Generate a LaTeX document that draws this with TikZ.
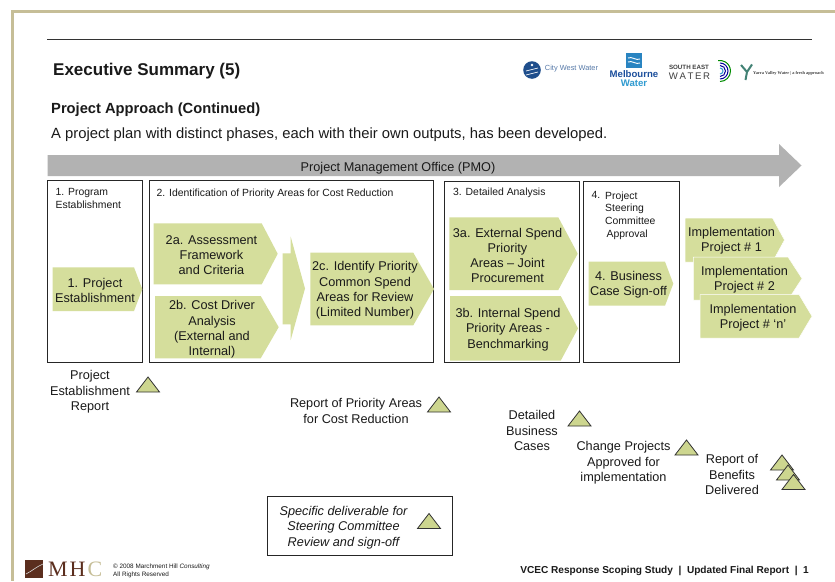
\documentclass[tikz,border=0pt]{standalone}
\usepackage{fontspec}
\setmainfont{Liberation Sans}
\newfontfamily\serifmhc{Liberation Serif}
\usetikzlibrary{calc}
\definecolor{chev}{HTML}{D5DE9C}
\definecolor{tri}{HTML}{CDD68F}
\definecolor{pmo}{HTML}{B2B2B2}
\definecolor{frameT}{HTML}{C6BE97}
\definecolor{txt}{HTML}{1A1A1A}
\definecolor{mhcbrown}{HTML}{5B2E1E}
\definecolor{cwwblue}{HTML}{1F4E8C}
\definecolor{mwblue}{HTML}{1C4F9C}
\definecolor{mwcyan}{HTML}{2E9AD0}
\tikzset{
 x=1pt,y=-1pt,
 lbl/.style={align=center,font=\fontsize{12.7}{15.3}\selectfont,text=txt,inner sep=0pt},
 head/.style={align=left,font=\fontsize{10.4}{12.2}\selectfont,text=txt,inner sep=0pt,anchor=north west},
 phase/.style={draw=black!85,line width=0.9pt,fill=white},
 chevfill/.style={fill=chev,draw=white,line width=0.5pt},
 deliv/.style={fill=tri,draw=black!80,line width=0.8pt,line join=miter},
}
% chevron: x0,y0,x1,y1,tip-depth
\newcommand{\chv}[5]{\fill[chev] (#1,#2) -- ({#3-#5},#2) -- (#3,{(#2+#4)/2}) -- ({#3-#5},#4) -- (#1,#4) -- cycle;}
\newcommand{\chvw}[5]{\filldraw[chevfill] (#1,#2) -- ({#3-#5},#2) -- (#3,{(#2+#4)/2}) -- ({#3-#5},#4) -- (#1,#4) -- cycle;}
\newcommand{\trg}[2]{\path[deliv] ({#1-11.5},{#2+7.5}) -- (#1,{#2-7.5}) -- ({#1+11.5},{#2+7.5}) -- cycle;}
\begin{document}
\begin{tikzpicture}
\useasboundingbox (0,0) rectangle (835,581);
\fill[white] (0,0) rectangle (835,581);
% page frame
\fill[frameT] (11,10) rectangle (835,13);
\fill[frameT] (11,10) rectangle (14,581);
\draw[black!80,line width=1.1pt] (47,39.5) -- (812,39.5);
% titles
\node[anchor=west,inner sep=0pt,font=\fontsize{17}{20}\selectfont\bfseries,text=txt] (title) at (53,71) {Executive Summary (5)};
\node[anchor=west,inner sep=0pt,font=\fontsize{14.7}{17}\selectfont\bfseries,text=txt] (sub) at (51,109.5) {Project Approach (Continued)};
\node[anchor=west,inner sep=0pt,font=\fontsize{14.8}{17}\selectfont,text=txt] (intro) at (51,134.5) {A project plan with distinct phases, each with their own outputs, has been developed.};
% PMO arrow
\fill[pmo] (47.5,155) -- (779,155) -- (779,144) -- (801.5,165.5) -- (779,187) -- (779,176) -- (47.5,176) -- cycle;
\node[lbl] (pmotxt) at (398,168.5) {Project Management Office (PMO)};
% phase boxes
\draw[phase] (47.7,180) rectangle (142.7,362.3);
\draw[phase] (149.7,180) rectangle (433.3,362.3);
\draw[phase] (444,181.7) rectangle (579.7,362.3);
\draw[phase] (583.7,181.7) rectangle (679,362.3);
\node[head] (h1) at (55.5,188.5) {1. Program\\Establishment};
\node[head] (h2) at (156.5,188.5) {2. Identification of Priority Areas for Cost Reduction};
\node[head] (h3) at (453,188) {3. Detailed Analysis};
\node[head] (h4a) at (591.5,191.5) {4.};
\node[head,font=\fontsize{10.4}{12.6}\selectfont] (h4) at (605,191.5) {Project\\Steering\\Committee\\\hspace*{1.5pt}Approval};
% chevrons
\chv{52.7}{267.3}{142.3}{311}{8.3}
\node[lbl] (c1) at (95,290.5) {1. Project\\Establishment};
\chv{153.7}{223.3}{277.7}{284.3}{16}
\node[lbl] (c2a) at (211.5,255) {2a. Assessment\\Framework\\and Criteria};
\chv{155}{296}{278.7}{358.3}{18}
\node[lbl] (c2b) at (212,329.5) {2b. Cost Driver\\Analysis\\(External and\\Internal)};
\fill[chev] (282.7,253.3) -- (290.7,253.3) -- (290.7,236.7) -- (305,288.5) -- (290.7,340) -- (290.7,324.3) -- (282.7,324.3) -- cycle;
\chv{310.3}{252.7}{434}{325.3}{20.7}
\node[lbl] (c2c) at (365,290.5) {2c. Identify Priority\\Common Spend\\Areas for Review\\(Limited Number)};
\chv{449.3}{217.3}{577.7}{290}{19.4}
\node[lbl] (c3a) at (507.5,255.5) {3a. External Spend\\Priority\\Areas – Joint\\Procurement};
\chv{450}{296}{578}{360.7}{17.3}
\node[lbl] (c3b) at (508,329.5) {3b. Internal Spend\\Priority Areas -\\Benchmarking};
\chv{588.7}{261.7}{673.3}{305.7}{8.3}
\node[lbl] (c4) at (628.5,285) {4. Business\\Case Sign-off};
% implementation chevrons
\chvw{685}{218}{784.5}{262}{12}
\node[lbl] (i1) at (731.5,241) {Implementation\\Project \# 1};
\chvw{693.3}{257}{802}{300}{14}
\node[lbl] (i2) at (744.5,280) {Implementation\\Project \# 2};
\chvw{700}{294.5}{812}{338}{13}
\node[lbl] (i3) at (753,318) {Implementation\\Project \# ‘n’};
% deliverables
\node[lbl] (d1) at (90,392) {Project\\Establishment\\Report};
\trg{148}{384.5}
\node[lbl] (d2) at (356,411) {Report of Priority Areas\\for Cost Reduction};
\trg{439}{404.5}
\node[lbl] (d3) at (532,430.5) {Detailed\\Business\\Cases};
\trg{579.5}{418.5}
\node[lbl] (d4) at (623.5,463) {Change Projects\\Approved for\\implementation};
\trg{686.5}{447.5}
\node[lbl] (d5) at (732,474.5) {Report of\\Benefits\\Delivered};
\trg{782}{462.5}
\trg{788}{472.5}
\trg{793.5}{482}
% legend
\draw[black!85,line width=0.8pt] (267,496) rectangle (452,555);
\node[lbl,font=\fontsize{12.7}{15.3}\selectfont\itshape] (leg) at (343.5,527.5) {Specific deliverable for\\Steering Committee\\Review and sign-off};
\trg{429}{521}
% logos
\fill[cwwblue] (532,70) circle (8.8);
\draw[white,line width=0.7pt] (526,71) -- (538,68) (526,75) -- (538,72);
\fill[white] (532,65) circle (1.4);
\node[inner sep=0pt,font=\fontsize{7.4}{8}\selectfont,text=cwwblue!75] (cww) at (571.5,69) {City West Water};
\fill[mwcyan!70!mwblue] (626,52.7) rectangle (642,67.7);
\draw[white,line width=0.9pt] (628,58) .. controls (632,56) and (636,61) .. (640,59) (628,62) .. controls (632,60) and (636,65) .. (640,63);
\node[inner sep=0pt,font=\fontsize{9.6}{9}\selectfont\bfseries,align=center,text=mwblue] (mw) at (634,78.5) {Melbourne\\\textcolor{mwcyan}{Water}};
\node[inner sep=0pt,font=\fontsize{6.2}{7}\selectfont\bfseries,text=black!75] (se) at (689,67) {SOUTH EAST};
\node[inner sep=0pt,font=\fontsize{9.6}{10}\selectfont,text=black!75] (se2) at (689.5,76) {W\,A\,T\,E\,R};
% swirl, centred on (720,71)
\draw[green!55!black,line width=1pt] (720,81.5) arc (90:-100:10.5);
\draw[blue!60!black,line width=1pt] (720,79) arc (90:-90:8);
\draw[blue!60!black,line width=1pt] (720,76.5) arc (90:-90:5.5);
\draw[mwcyan,line width=1pt] (720,74) arc (90:-90:3);
\draw[cyan!45!green!60!black,line width=2pt] (741,65) -- (747,72) -- (752,64.5) (747,72) -- (745.5,80);
\node[inner sep=0pt,font=\fontsize{4.35}{5}\selectfont\serifmhc\bfseries,text=black!75,anchor=west] (yv) at (753,73.5) {Yarra Valley Water | a fresh approach};
% footer
\fill[mhcbrown] (25,559.5) rectangle (43,578);
\draw[white!85!black,line width=0.6pt] (26,574) .. controls (32,571) and (36,567) .. (43,564);
\node[anchor=base west,inner sep=0pt,font=\fontsize{22}{23}\selectfont\serifmhc,text=mhcbrown] (mhc) at (48,576.5) {M\hspace{2pt}H\hspace{2pt}\textcolor{frameT}{C}};
\node[anchor=north west,align=left,inner sep=0pt,font=\fontsize{6.35}{8}\selectfont,text=txt] (cp) at (113,563.5) {© 2008 Marchment Hill \textit{Consulting}\\All Rights Reserved};
\node[anchor=east,inner sep=0pt,font=\fontsize{10.1}{12}\selectfont\bfseries,text=txt] (foot) at (809,570.5) {VCEC Response Scoping Study \ | \ Updated Final Report \ | \ 1};
\end{tikzpicture}
\end{document}
